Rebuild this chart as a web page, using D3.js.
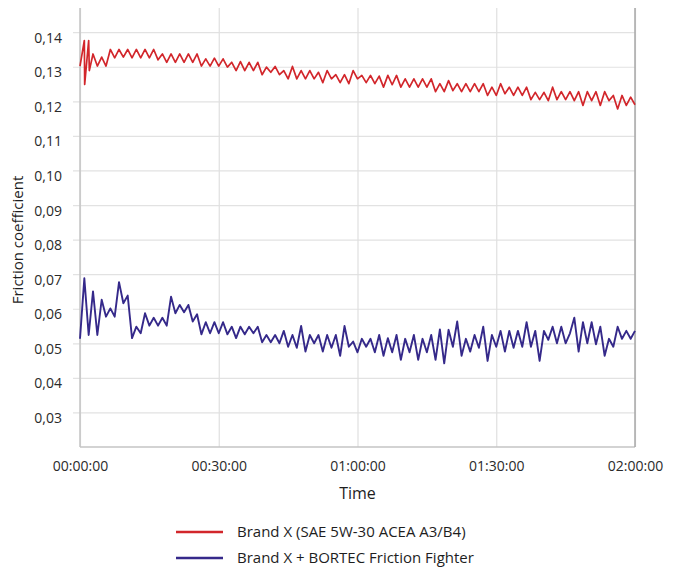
<!DOCTYPE html>
<html>
<head>
<meta charset="utf-8">
<script src="https://cdn.jsdelivr.net/npm/d3@7"></script>
<style>
  html, body { margin: 0; padding: 0; background: #ffffff; }
  svg { display: block; }
  text { font-family: "Open Sans", "Noto Sans", sans-serif; }
</style>
</head>
<body>
<svg id="chart" width="673" height="568"></svg>
<script>
// ---------- data ----------
const xTickMinutes = [0, 30, 60, 90, 120];
const xTickLabels = ["00:00:00", "00:30:00", "01:00:00", "01:30:00", "02:00:00"];
const yTicks = [0.03, 0.04, 0.05, 0.06, 0.07, 0.08, 0.09, 0.10, 0.11, 0.12, 0.13, 0.14];
const sampleMinutes = 0.9375; // one sample every 56.25 s

const seriesNames = ["Brand X (SAE 5W-30 ACEA A3/B4)", "Brand X + BORTEC Friction Fighter"];

// red series: first (irregular) samples given by sample index, then regular samples 3..128
const redLeadIndex = [0, 1, 1.08, 2, 2.15];
const redLeadValues = [0.1302, 0.1376, 0.1249, 0.1376, 0.1289];
const redValues = [
  0.1337,0.1302,0.1328,0.1302,0.1350,0.1326,0.1350,0.1328,0.1350,0.1326,
  0.1350,0.1326,0.1350,0.1326,0.1350,0.1320,0.1337,0.1313,0.1337,0.1313,
  0.1337,0.1313,0.1337,0.1313,0.1337,0.1302,0.1323,0.1302,0.1325,0.1302,
  0.1323,0.1299,0.1313,0.1289,0.1315,0.1289,0.1313,0.1289,0.1313,0.1277,
  0.1299,0.1284,0.1301,0.1277,0.1289,0.1265,0.1301,0.1265,0.1289,0.1265,
  0.1289,0.1265,0.1284,0.1254,0.1289,0.1265,0.1277,0.1254,0.1277,0.1251,
  0.1289,0.1265,0.1275,0.1254,0.1275,0.1251,0.1273,0.1241,0.1275,0.1248,
  0.1275,0.1241,0.1265,0.1241,0.1265,0.1241,0.1265,0.1241,0.1265,0.1228,
  0.1251,0.1228,0.1260,
  0.1231,0.1251,0.1228,0.1251,0.1228,0.1251,0.1228,0.1251,0.1217,0.1241,
  0.1217,0.1251,0.1222,0.1241,0.1217,0.1241,0.1217,0.1241,0.1205,0.1226,
  0.1205,0.1226,0.1202,0.1241,0.1205,0.1228,0.1205,0.1228,0.1202,0.1228,
  0.1188,0.1228,0.1202,0.1228,0.1188,0.1228,0.1202,0.1217,0.1178,0.1217,
  0.1188,0.1212,0.1190
];
const redStartIndex = 3;

// blue series: regular samples 0..128
const blueValues = [
  0.0513,0.0688,0.0524,0.0650,0.0524,0.0626,0.0577,0.0601,0.0577,0.0677,
  0.0616,0.0638,0.0515,0.0548,0.0529,0.0587,0.0551,0.0574,0.0551,0.0574,
  0.0551,0.0635,0.0587,0.0611,0.0590,0.0611,0.0563,0.0584,0.0526,0.0561,
  0.0529,0.0561,0.0529,0.0561,0.0526,0.0548,0.0515,0.0548,0.0526,0.0548,
  0.0529,0.0548,0.0503,0.0524,
  0.0503,0.0524,0.0500,0.0536,0.0490,0.0524,0.0487,0.0550,0.0476,0.0524,
  0.0500,0.0524,0.0476,0.0524,0.0487,0.0524,0.0464,0.0550,0.0490,0.0505,
  0.0474,0.0513,0.0490,0.0513,0.0474,0.0524,0.0464,0.0515,0.0474,0.0524,
  0.0452,0.0513,0.0474,0.0524,0.0452,0.0513,0.0474,0.0524,0.0452,0.0540,
  0.0442,0.0539,
  0.0490,0.0563,0.0464,0.0513,0.0476,0.0524,0.0487,0.0548,0.0449,0.0524,
  0.0490,0.0536,0.0476,0.0536,0.0487,0.0536,0.0490,0.0561,0.0490,0.0536,
  0.0449,0.0536,0.0510,0.0548,0.0500,0.0548,0.0500,0.0529,0.0574,0.0476,
  0.0561,0.0500,0.0561,0.0497,0.0548,0.0464,0.0513,0.0490,0.0548,0.0513,
  0.0536,0.0513,0.0536
];

// ---------- layout ----------
const colors = ["#d2262b", "#35298a"];
const plot = { left: 80, right: 635, top: 8, bottom: 447 };

const svg = d3.select("#chart");
const x = d3.scaleLinear().domain([0, 120]).range([plot.left, plot.right]);
const y = d3.scaleLinear().domain([0.02, 0.147]).range([plot.bottom, plot.top]);

const locale = d3.formatLocale({ decimal: ",", thousands: ".", grouping: [3], currency: ["", "€"] });
const fmt = locale.format(".2f");

// horizontal grid + y labels (axis anchored at right edge so tick lines span the plot)
const yAxis = svg.append("g")
  .attr("transform", `translate(${plot.right},0)`)
  .call(d3.axisLeft(y).tickValues(yTicks).tickSize(plot.right - plot.left + 7).tickPadding(11).tickFormat(fmt));
yAxis.select(".domain").remove();
yAxis.selectAll(".tick line").attr("stroke", "#e2e2e2").attr("stroke-width", 1.2);
yAxis.selectAll(".tick text")
  .attr("dy", "0.72em")
  .attr("fill", "#2a2a2a")
  .style("font-size", "14px")
  .style("font-family", "'Open Sans', sans-serif");

// vertical grid + x labels
const xAxis = svg.append("g")
  .attr("transform", `translate(0,${plot.bottom})`)
  .call(d3.axisBottom(x).tickValues(xTickMinutes).tickSize(-(plot.bottom - plot.top)).tickPadding(14)
    .tickFormat((d, i) => xTickLabels[i]));
xAxis.select(".domain").remove();
xAxis.selectAll(".tick line").attr("stroke", "#e0e0e0").attr("stroke-width", 1.2);
xAxis.selectAll(".tick text")
  .attr("fill", "#2a2a2a")
  .style("font-size", "14px")
  .style("font-family", "'Open Sans', sans-serif");

// frame lines
svg.append("line").attr("x1", plot.left).attr("x2", plot.left).attr("y1", plot.top).attr("y2", plot.bottom)
  .attr("stroke", "#c4c4c4").attr("stroke-width", 1.5);
svg.append("line").attr("x1", plot.left).attr("x2", plot.right).attr("y1", plot.bottom).attr("y2", plot.bottom)
  .attr("stroke", "#c4c4c4").attr("stroke-width", 1.5);
svg.append("line").attr("x1", plot.right).attr("x2", plot.right).attr("y1", plot.top).attr("y2", plot.bottom)
  .attr("stroke", "#a8a8a8").attr("stroke-width", 1.5);

// series data
const redData = redLeadIndex.map((s, i) => ({ t: s * sampleMinutes, v: redLeadValues[i] }))
  .concat(redValues.map((v, i) => ({ t: (redStartIndex + i) * sampleMinutes, v })));
const blueData = blueValues.map((v, i) => ({ t: i * sampleMinutes, v }));

const line = d3.line().x(d => x(d.t)).y(d => y(d.v));

svg.append("path").datum(redData).attr("d", line)
  .attr("fill", "none").attr("stroke", colors[0]).attr("stroke-width", 1.7).attr("stroke-linejoin", "round");
svg.append("path").datum(blueData).attr("d", line)
  .attr("fill", "none").attr("stroke", colors[1]).attr("stroke-width", 1.9).attr("stroke-linejoin", "round");

// axis titles
svg.append("text").attr("x", (plot.left + plot.right) / 2).attr("y", 499)
  .attr("text-anchor", "middle").attr("fill", "#1e1e1e").style("font-size", "16px").text("Time");
svg.append("text").attr("transform", "translate(23,240) rotate(-90)")
  .attr("text-anchor", "middle").attr("fill", "#1e1e1e").style("font-size", "15px").text("Friction coefficient");

// legend
const legend = svg.append("g");
seriesNames.forEach((name, i) => {
  const ly = 532 + i * 26;
  legend.append("line").attr("x1", 176).attr("x2", 223).attr("y1", ly).attr("y2", ly)
    .attr("stroke", colors[i]).attr("stroke-width", 2.5);
  legend.append("text").attr("x", 237).attr("y", ly + 5)
    .attr("fill", "#1e1e1e").style("font-size", "15px").text(name);
});
</script>
</body>
</html>
